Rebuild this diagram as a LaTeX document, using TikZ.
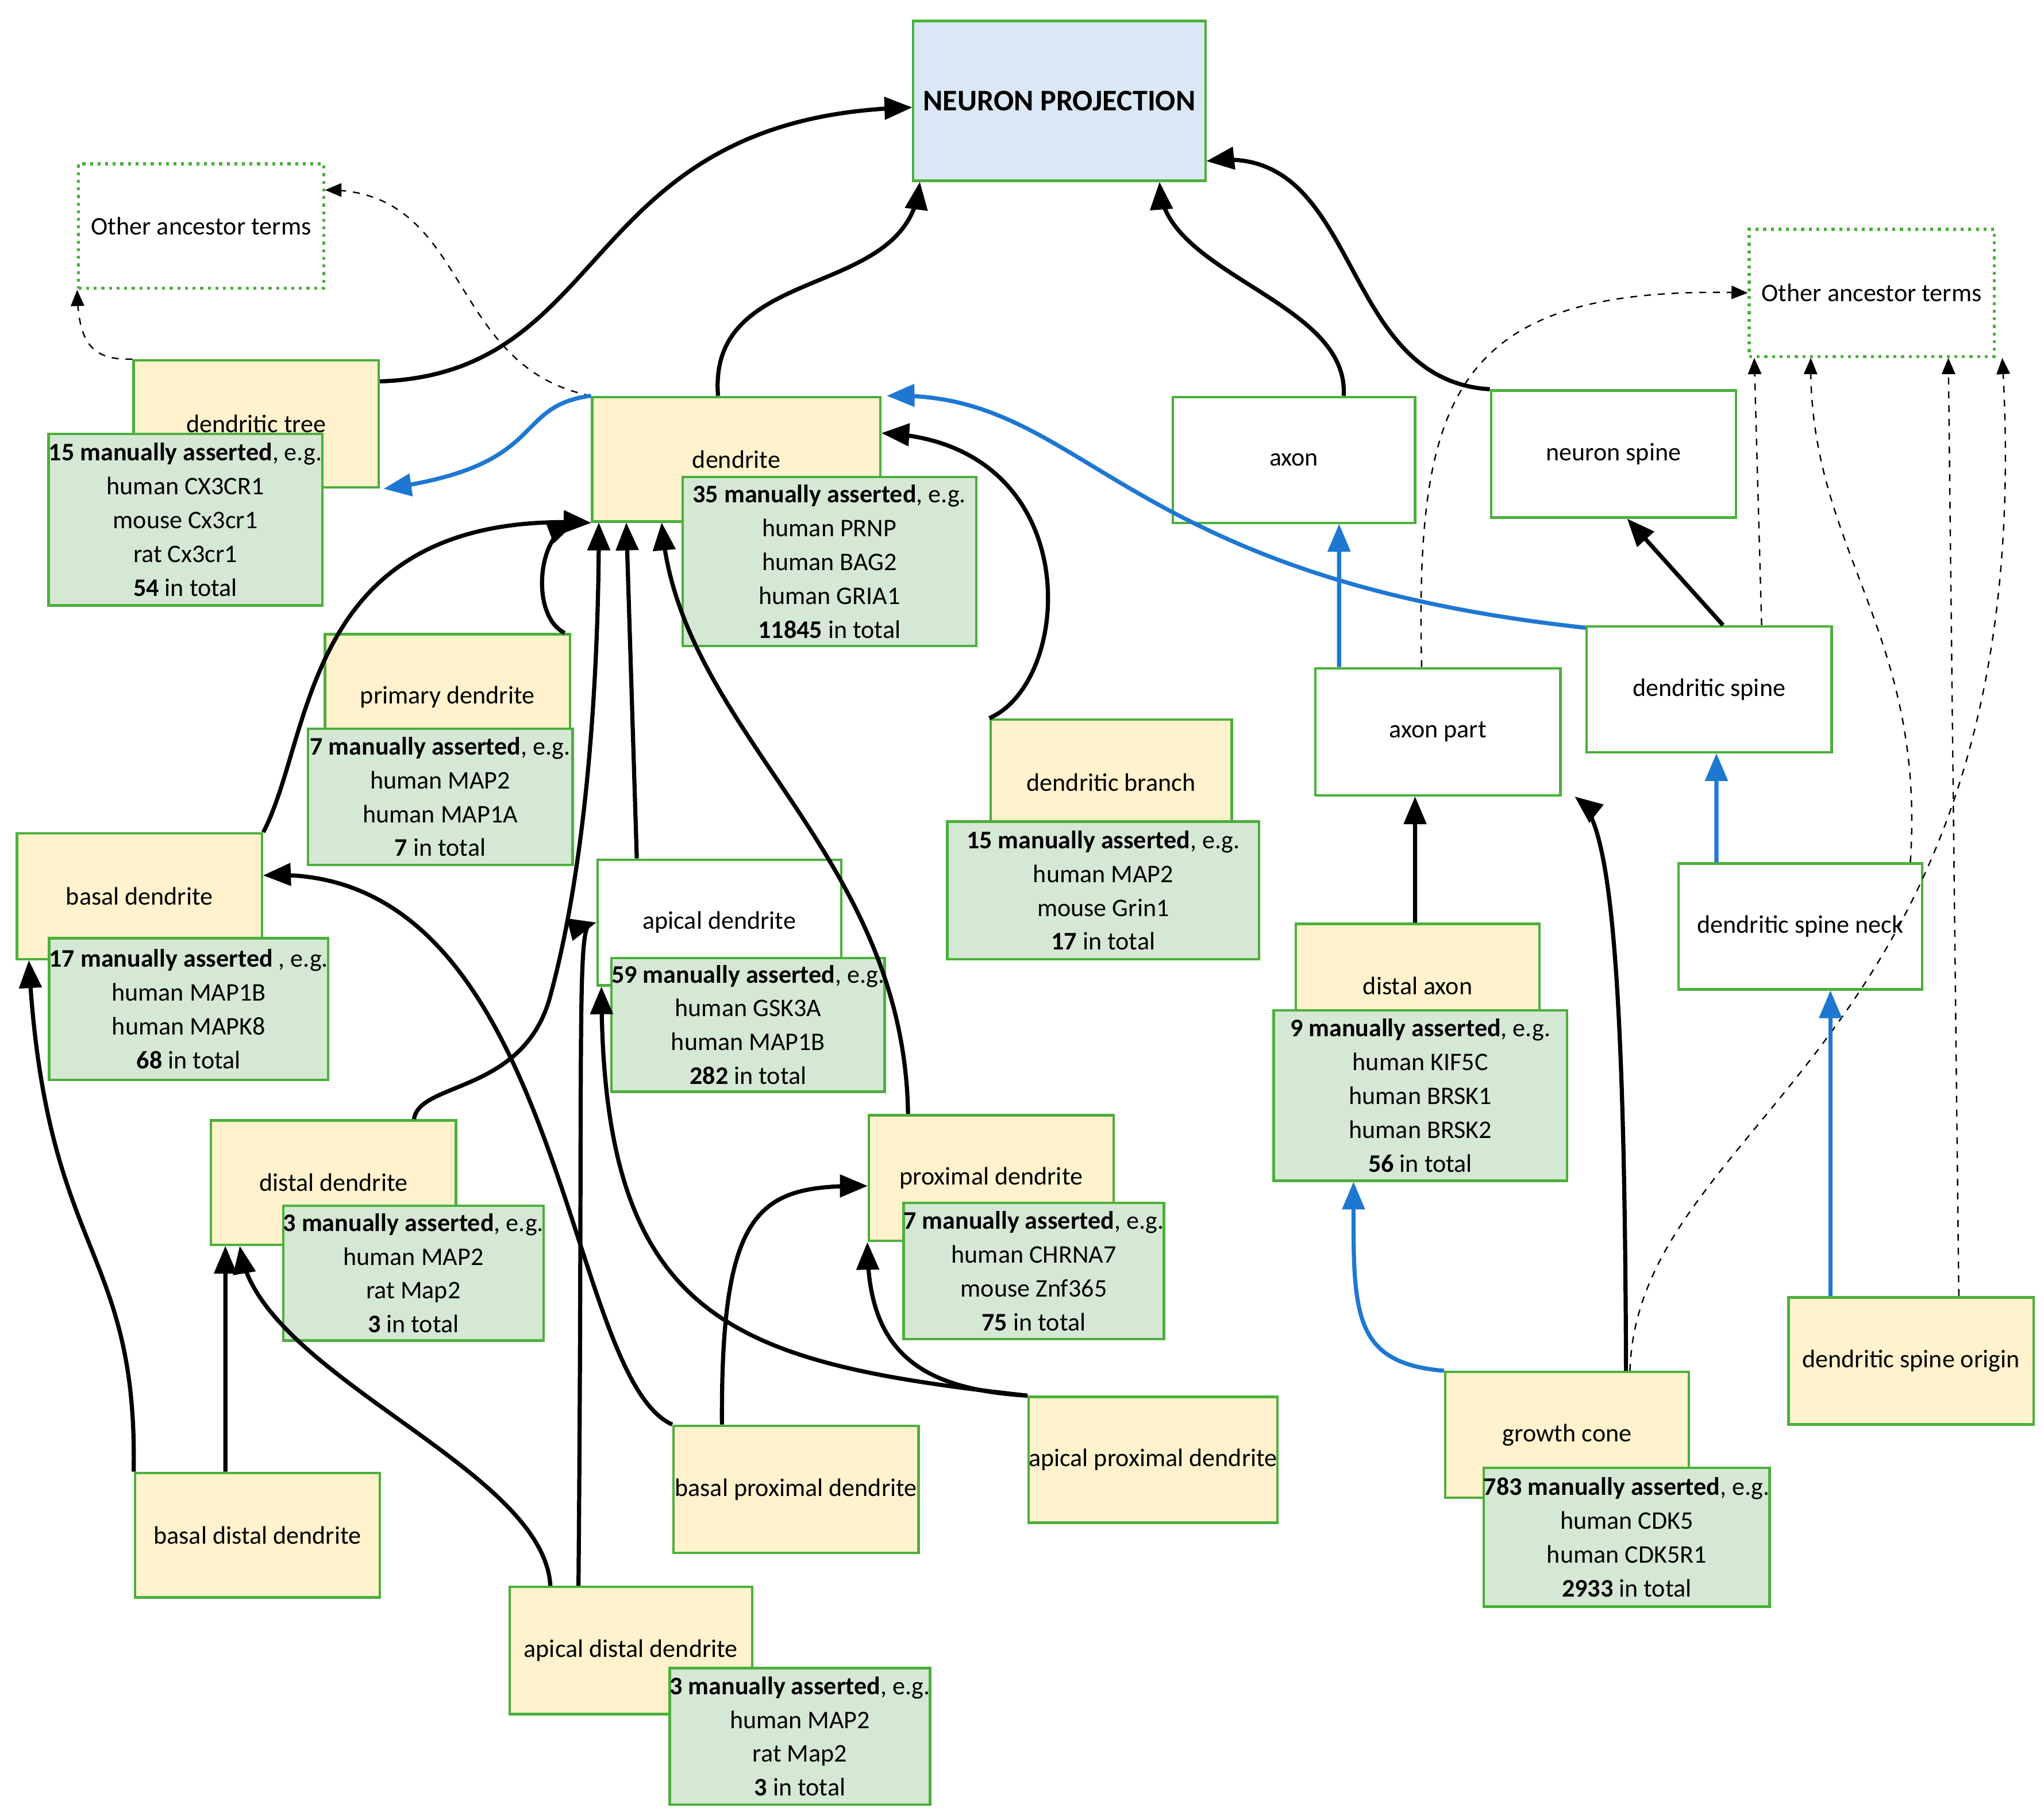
\documentclass[tikz,border=0pt]{standalone}
\usepackage{fontspec}
\setmainfont{Carlito}
\usetikzlibrary{arrows,calc}

\definecolor{boxgreen}{RGB}{76,175,60}
\definecolor{yfill}{RGB}{255,242,204}
\definecolor{gfill}{RGB}{213,232,212}
\definecolor{bfill}{RGB}{218,232,245}
\definecolor{linkblue}{RGB}{30,120,210}

\tikzset{
  sz/.style 2 args={minimum width=#1*0.02cm, minimum height=#2*0.02cm},
  term/.style={draw=boxgreen,line width=1.1pt,inner sep=0pt,align=center,
               font=\fontsize{11}{14.7}\selectfont},
  yterm/.style={term,fill=yfill},
  wterm/.style={term,fill=white},
  gterm/.style={term,fill=gfill},
  other/.style={draw=boxgreen,dotted,line width=1.3pt,inner sep=0pt,
                font=\fontsize{11}{14.7}\selectfont},
  isa/.style={->,>=triangle 45,line width=1.8pt,black},
  partof/.style={->,>=triangle 45,line width=1.8pt,linkblue},
  anc/.style={->,>=triangle 45,dashed,line width=0.6pt,black},
}

\begin{document}
\begin{tikzpicture}[x=0.02cm,y=-0.02cm]
  \useasboundingbox (0,0) rectangle (1560,1388);

  % top term and ancestors
  \node[term,fill=bfill,sz={223}{122},font=\fontsize{13}{16}\selectfont\bfseries] (np) at (808.5,77) {NEURON PROJECTION};
  \node[other,sz={187}{95}] (othL) at (153.5,172.5) {Other ancestor terms};
  \node[other,sz={187}{97}] (othR) at (1428.5,223.5) {Other ancestor terms};

  % terms
  \node[yterm,sz={187}{97}] (dtree) at (195.5,323.5) {dendritic tree};
  \node[yterm,sz={220}{95}] (dend) at (562,350.5) {dendrite};
  \node[wterm,sz={185}{96}] (axon) at (987.5,351) {axon};
  \node[wterm,sz={187}{97}] (nspine) at (1231.5,346.5) {neuron spine};
  \node[yterm,sz={187}{96}] (prim) at (341.5,532) {primary dendrite};
  \node[yterm,sz={184}{96}] (branch) at (848,597) {dendritic branch};
  \node[wterm,sz={187}{97}] (axpart) at (1097.5,558.5) {axon part};
  \node[wterm,sz={187}{96}] (spine) at (1304.5,526) {dendritic spine};
  \node[yterm,sz={187}{96}] (basal) at (106.5,684) {basal dendrite};
  \node[wterm,sz={186}{96}] (apical) at (549,704) {apical dendrite};
  \node[yterm,sz={186}{95}] (daxon) at (1082,752.5) {distal axon};
  \node[wterm,sz={186}{96}] (neck) at (1374,707) {dendritic spine neck};
  \node[yterm,sz={187}{95}] (ddist) at (254.5,902.5) {distal dendrite};
  \node[yterm,sz={187}{96}] (prox) at (756.5,899) {proximal dendrite};
  \node[yterm,sz={187}{97}] (origin) at (1458.5,1038.5) {dendritic spine origin};
  \node[yterm,sz={186}{96}] (cone) at (1196,1095) {growth cone};
  \node[yterm,sz={186}{96}] (aprox) at (880,1114) {apical proximal dendrite};
  \node[yterm,sz={187}{97}] (bprox) at (607.5,1136.5) {basal proximal dendrite};
  \node[yterm,sz={187}{95}] (bdist) at (196.5,1171.5) {basal distal dendrite};
  \node[yterm,sz={185}{97}] (adist) at (481.5,1259.5) {apical distal dendrite};

  % annotation counts
  \node[gterm,sz={209}{131}] (gtree) at (141.5,396.5) {\textbf{15 manually asserted}, e.g.\\human CX3CR1\\mouse Cx3cr1\\rat Cx3cr1\\\textbf{54} in total};
  \node[gterm,sz={224}{129}] (gdend) at (633,428.5) {\textbf{35 manually asserted}, e.g.\\human PRNP\\human BAG2\\human GRIA1\\\textbf{11845} in total};
  \node[gterm,sz={202}{104}] (gprim) at (336,608) {\textbf{7 manually asserted}, e.g.\\human MAP2\\human MAP1A\\\textbf{7} in total};
  \node[gterm,sz={238}{105}] (gbranch) at (842,679.5) {\textbf{15 manually asserted}, e.g.\\human MAP2\\mouse Grin1\\\textbf{17} in total};
  \node[gterm,sz={208}{108}] (gbasal) at (144,770) {\textbf{17 manually asserted} , e.g.\\human MAP1B\\human MAPK8\\\textbf{68} in total};
  \node[gterm,sz={202}{102}] (gapical) at (571,782) {\textbf{59 manually asserted}, e.g.\\human GSK3A\\human MAP1B\\\textbf{282} in total};
  \node[gterm,sz={224}{130}] (gdaxon) at (1084,836) {\textbf{9 manually asserted}, e.g.\\human KIF5C\\human BRSK1\\human BRSK2\\\textbf{56} in total};
  \node[gterm,sz={197}{103}] (gddist) at (315.5,971.5) {\textbf{3 manually asserted}, e.g.\\human MAP2\\rat Map2\\\textbf{3} in total};
  \node[gterm,sz={186}{104}] (gprox) at (789,970) {\textbf{7 manually asserted}, e.g.\\human CHRNA7\\mouse Znf365\\\textbf{75} in total};
  \node[gterm,sz={205}{106}] (gcone) at (1241.5,1173) {\textbf{783 manually asserted}, e.g.\\human CDK5\\human CDK5R1\\\textbf{2933} in total};
  \node[gterm,sz={197}{104}] (gadist) at (610.5,1325) {\textbf{3 manually asserted}, e.g.\\human MAP2\\rat Map2\\\textbf{3} in total};

  % ancestor links
  \draw[anc] (dtree.north west) .. controls (70,275) and (60,262) .. (othL.south west);
  \draw[anc] (dend.north west) .. controls (340,280) and (360,145) .. ([yshift=0.55cm]othL.east);
  \draw[anc] ([xshift=-0.25cm]axpart.north) .. controls (1080,300) and (1110,217) .. (othR.west);
  \draw[anc] ([xshift=0.8cm]spine.north) -- ([xshift=0.1cm]othR.south west);
  \draw[anc] ([xshift=-0.2cm]neck.north east) .. controls (1470,480) and (1380,420) .. ([xshift=-0.93cm]othR.south);
  \draw[anc] ([xshift=0.73cm]origin.north) -- ([xshift=1.17cm]othR.south);
  \draw[anc] ([xshift=0.96cm]cone.north) .. controls (1250,850) and (1560,800) .. ([xshift=0.1cm]othR.south east);

  % part_of links
  \draw[partof] (dend.north west) .. controls (390,310) and (420,355) .. ([xshift=0.06cm]dtree.south east);
  \draw[partof] ([yshift=-0.04cm]spine.north west) .. controls (850,440) and (830,300) .. ([xshift=0.08cm]dend.north east);
  \draw[partof] ([xshift=-1.51cm]axpart.north) -- ([xshift=0.69cm]axon.south);
  \draw[partof] ([xshift=-1.28cm]neck.north) -- ([xshift=0.11cm]spine.south);
  \draw[partof] ([xshift=-1.23cm]origin.north) -- ([xshift=0.46cm]neck.south);
  \draw[partof] (cone.north west) .. controls (1030,1040) and (1033,1000) .. ([xshift=-1.02cm]gdaxon.south);

  % is_a links
  \draw[isa] ([yshift=-0.34cm]dtree.north east) .. controls (470,285) and (440,90) .. ([yshift=-0.1cm]np.west);
  \draw[isa] ([xshift=-0.28cm]dend.north) .. controls (540,200) and (690,230) .. ([xshift=0.12cm]np.south west);
  \draw[isa] ([xshift=0.76cm]axon.north) .. controls (1030,230) and (890,210) .. ([xshift=-0.72cm]np.south east);
  \draw[isa] (nspine.north west) .. controls (1020,290) and (1040,110) .. ([yshift=0.32cm]np.south east);
  \draw[isa] ([xshift=0.21cm]spine.north) -- ([xshift=0.21cm]nspine.south);
  \draw[isa] ([xshift=-0.04cm]daxon.north) -- ([xshift=-0.35cm]axpart.south);
  \draw[isa] ([xshift=0.9cm]cone.north) .. controls (1240,750) and (1230,630) .. ([xshift=0.2cm]axpart.south east);
  \draw[isa] ([xshift=-0.1cm]prim.north east) .. controls (405,470) and (410,410) .. ([xshift=-0.24cm]dend.south west);
  \draw[isa] (basal.north east) .. controls (240,560) and (230,390) .. (dend.south west);
  \draw[isa] ([xshift=-1.26cm]apical.north) -- ([xshift=-1.68cm]dend.south);
  \draw[isa] ([xshift=1.23cm]ddist.north) .. controls (320,825) and (400,835) .. (420,760)
             .. controls (450,650) and (457,500) .. ([xshift=-2.1cm]dend.south);
  \draw[isa] ([xshift=-0.8cm]adist.north) .. controls (445,800) and (440,708) .. (apical.west);
  \draw[isa] ([xshift=-1.23cm]adist.north) .. controls (415,1120) and (200,1050) .. ([xshift=-1.43cm]ddist.south);
  \draw[isa] ([xshift=-0.49cm]bdist.north) -- ([xshift=-1.65cm]ddist.south);
  \draw[isa] (bdist.north west) .. controls (105,950) and (35,960) .. ([xshift=0.2cm]basal.south west);
  \draw[isa] (bprox.north west) .. controls (430,1050) and (430,660) .. ([yshift=0.32cm]basal.east);
  \draw[isa] ([xshift=-1.13cm]bprox.north) .. controls (550,920) and (580,905) .. ([yshift=-0.12cm]prox.west);
  \draw[isa] (aprox.north west) .. controls (560,1040) and (460,1010) .. ([xshift=0.08cm]apical.south west);
  \draw[isa] (aprox.north west) .. controls (700,1060) and (663,1030) .. (prox.south west);
  \draw[isa] ([xshift=-1.27cm]prox.north) .. controls (690,650) and (520,560) .. ([xshift=-1.14cm]dend.south);
  \draw[isa] (branch.north west) .. controls (820,520) and (830,340) .. ([yshift=0.4cm]dend.east);
\end{tikzpicture}
\end{document}
